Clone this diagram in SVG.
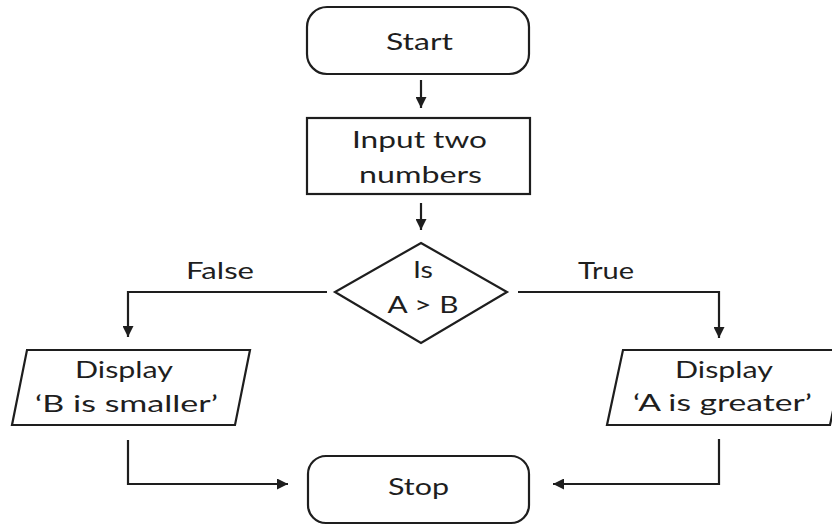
<svg xmlns="http://www.w3.org/2000/svg" width="832" height="525" viewBox="0 0 832 525">
<defs>
<marker id="ah" markerUnits="userSpaceOnUse" markerWidth="12" markerHeight="11" refX="11" refY="5.5" orient="auto">
<path d="M0,0 L11,5.5 L0,11 z" fill="#1e1e1e"/>
</marker>
<style>
.s{fill:#fff;stroke:#1e1e1e;stroke-width:2.2}
.c{fill:none;stroke:#1e1e1e;stroke-width:2.2;marker-end:url(#ah)}
text{font-family:Lato,"Noto Sans","Liberation Sans",sans-serif;font-size:24px;fill:#1e1e1e;text-anchor:middle}
</style>
</defs>
<rect width="832" height="525" fill="#fff"/>
<g id="connectors">
<line class="c" x1="421" y1="80" x2="421" y2="108"/>
<line class="c" x1="421" y1="203" x2="421" y2="230"/>
<polyline class="c" points="327,292 128,292 128,337"/>
<polyline class="c" points="518,292 719,292 719,338"/>
<polyline class="c" points="128,440 128,484 288,484"/>
<polyline class="c" points="719,439 719,484 553,484"/>
</g>
<g id="label-false"><text x="220" y="279" textLength="68" lengthAdjust="spacingAndGlyphs">False</text></g>
<g id="label-true"><text x="606" y="279" textLength="56" lengthAdjust="spacingAndGlyphs">True</text></g>
<g id="start">
<rect class="s" x="307" y="7" width="222" height="67" rx="20"/>
<text x="419.5" y="50" textLength="67" lengthAdjust="spacingAndGlyphs">Start</text>
</g>
<g id="input">
<rect class="s" x="307" y="118" width="223" height="76"/>
<text x="419.5" y="148" textLength="135" lengthAdjust="spacingAndGlyphs">Input two</text>
<text x="420.5" y="183" textLength="123" lengthAdjust="spacingAndGlyphs">numbers</text>
</g>
<g id="decision">
<polygon class="s" points="421,243 507,292 421,343 335,292"/>
<text x="423" y="278" textLength="20" lengthAdjust="spacingAndGlyphs">Is</text>
<text x="423" y="313" textLength="71" lengthAdjust="spacingAndGlyphs">A &gt; B</text>
</g>
<g id="display-b">
<polygon class="s" points="27,350 250,350 235,425 12,425"/>
<text x="124" y="378" textLength="98" lengthAdjust="spacingAndGlyphs">Display</text>
<text x="126.5" y="412" textLength="183" lengthAdjust="spacingAndGlyphs">‘B is smaller’</text>
</g>
<g id="display-a">
<polygon class="s" points="623,350 846,350 830,425 607,425"/>
<text x="724" y="378" textLength="98" lengthAdjust="spacingAndGlyphs">Display</text>
<text x="722.5" y="411" textLength="179" lengthAdjust="spacingAndGlyphs">‘A is greater’</text>
</g>
<g id="stop">
<rect class="s" x="308" y="456" width="221" height="67" rx="18"/>
<text x="418.5" y="495" textLength="61" lengthAdjust="spacingAndGlyphs">Stop</text>
</g>
</svg>
